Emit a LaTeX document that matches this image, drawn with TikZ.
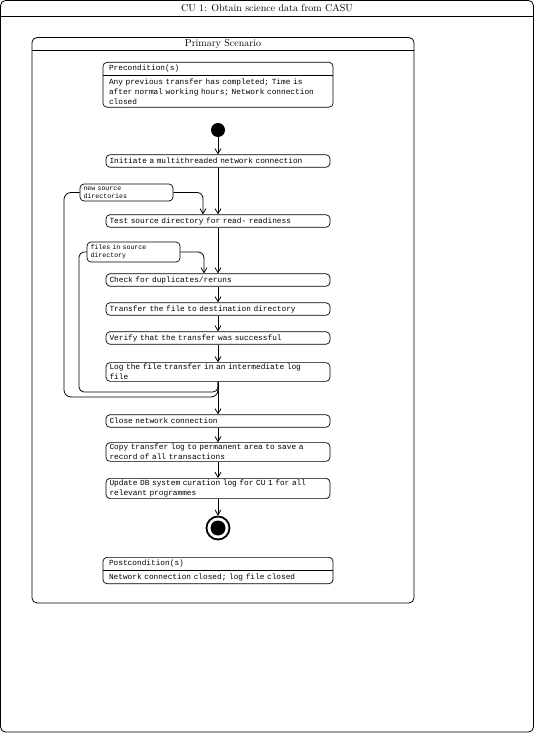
\documentclass[tikz,border=0pt]{standalone}
\usepackage{fontspec}
\setmonofont{Liberation Mono}
\usetikzlibrary{arrows.meta,shapes.multipart}

\tikzset{
  frame/.style={draw, line width=0.8pt, rounded corners=5pt},
  action/.style={draw, line width=0.7pt, rounded corners=4pt, text width=217pt,
    inner xsep=3.5pt, inner ysep=1.5pt, minimum height=12.5pt, align=left,
    font=\ttfamily\fontsize{7.8}{10}\selectfont},
  notebox/.style={draw, line width=0.7pt, rounded corners=4pt, text width=86pt,
    inner xsep=3.5pt, inner ysep=1.5pt, align=left,
    font=\ttfamily\fontsize{6.6}{8}\selectfont},
  condbox/.style={draw, rectangle split, rectangle split parts=2, line width=0.7pt,
    rounded corners=4pt, text width=218pt, inner xsep=6pt, inner ysep=2.6pt,
    align=left, font=\ttfamily\fontsize{7.8}{10}\selectfont},
  flow/.style={-{Straight Barb[length=5pt,width=6pt]}, line width=0.8pt},
}

\begin{document}
\begin{tikzpicture}[x=1pt, y=-1pt]
	\useasboundingbox (0,0) rectangle (534,733);

	% outer frame
	\draw[frame] (0.5,0.5) rectangle (533.5,732);
	\draw[line width=0.8pt] (0.5,16) -- (533.5,16);
	\node[font=\fontsize{10}{12}\selectfont] (cutitle) at (267,8.5) {CU 1: Obtain science data from CASU};

	% primary scenario frame
	\draw[frame] (32,37.5) rectangle (414,603);
	\draw[line width=0.8pt] (32,50.5) -- (414,50.5);
	\node[font=\fontsize{10}{12}\selectfont] (scentitle) at (223,44) {Primary Scenario};

	\node[condbox, anchor=north] (pre) at (218,62) {Precondition(s)\nodepart{two}Any previous transfer has completed; Time is\\after normal working hours; Network connection\\closed};

	\node[circle, fill=black, minimum size=14pt, inner sep=0pt] (start) at (218,130) {};

	\node[action] (init) at (218,161) {Initiate a multithreaded network connection};
	\node[notebox, minimum height=17pt] (newsrc) at (126.5,192.5) {new source\\directories};
	\node[action] (test) at (218,221) {Test source directory for read- readiness};
	\node[notebox, minimum height=20pt] (files) at (133.5,252) {files in source\\directory};
	\node[action] (check) at (218,280) {Check for duplicates/reruns};
	\node[action] (transfer) at (218,309) {Transfer the file to destination directory};
	\node[action] (verify) at (218,338) {Verify that the transfer was successful};
	\node[action] (log) at (218,372) {Log the file transfer in an intermediate log\\file};
	\node[action] (close) at (218,421) {Close network connection};
	\node[action] (copy) at (218,452) {Copy transfer log to permanent area to save a\\record of all transactions};
	\node[action] (update) at (218,488.5) {Update DB system curation log for CU 1 for all\\relevant programmes};

	\node[circle, draw, line width=1.8pt, minimum size=23pt, inner sep=0pt] (stop) at (218,528) {};
	\node[circle, fill=black, minimum size=15pt, inner sep=0pt] (stopdot) at (stop) {};

	\node[condbox, anchor=north] (post) at (218,557) {Postcondition(s)\nodepart{two}Network connection closed; log file closed};

	% main flow
	\draw[flow] (start) -- (init);
	\draw[flow] (init) -- (test);
	\draw[flow] (test) -- (check);
	\draw[flow] (check) -- (transfer);
	\draw[flow] (transfer) -- (verify);
	\draw[flow] (verify) -- (log);
	\draw[flow] (log) -- (close);
	\draw[flow] (close) -- (copy);
	\draw[flow] (copy) -- (update);
	\draw[flow] (update) -- (stop);

	% loops back through the notes
	\coordinate (outerturn) at (64,397);
	\coordinate (innerturn) at (79,392);
	\draw[flow, rounded corners=6pt] (newsrc.east) -| ([xshift=-15pt]test.north);
	\draw[flow, rounded corners=6pt] (files.east) -| ([xshift=-14pt]check.north);
	\draw[line width=0.8pt, rounded corners=7pt] (newsrc.west) -| (outerturn) -| (log.south);
	\draw[line width=0.8pt, rounded corners=5pt] (files.west) -| (innerturn) -| (log.south);
\end{tikzpicture}
\end{document}
